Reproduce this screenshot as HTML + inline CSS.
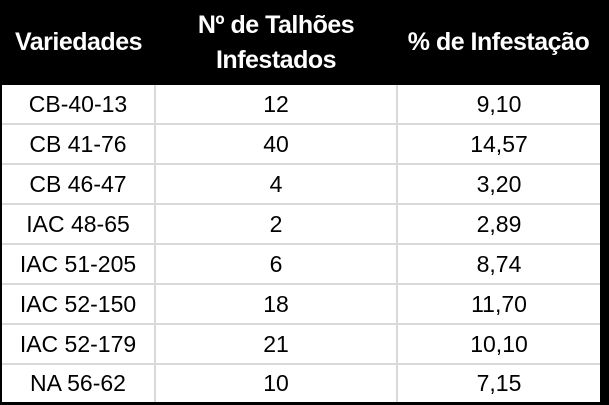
<!DOCTYPE html>
<html><head><meta charset="utf-8"><style>
body{margin:0;width:609px;height:405px;background:#fff;overflow:hidden;font-family:"Liberation Sans",sans-serif}
.wrap{position:absolute;left:0;top:0;width:609px;height:405px;background:#000}
table{position:absolute;left:2px;top:0;border-collapse:collapse;width:598px;table-layout:fixed}
th{background:#000;color:#fff;font-weight:bold;font-size:25px;height:85px;padding:0;line-height:35px;letter-spacing:-0.5px;white-space:nowrap}
td{background:#fff;color:#000;font-size:23px;text-align:center;height:38px;padding:0;border:2px solid #d9d9d9;border-top:none}
td:first-child{border-left:none}
td:last-child{border-right:none}
tr:last-child td{border-bottom:none;height:37px}
</style></head><body>
<div class="wrap">
<table>
<colgroup><col style="width:153px"><col style="width:242px"><col style="width:203px"></colgroup>
<tr>
<th>Variedades</th>
<th>Nº de Talhões<br>Infestados</th>
<th>% de Infestação</th></tr>
<tr><td>CB-40-13</td><td>12</td><td>9,10</td></tr>
<tr><td>CB 41-76</td><td>40</td><td>14,57</td></tr>
<tr><td>CB 46-47</td><td>4</td><td>3,20</td></tr>
<tr><td>IAC 48-65</td><td>2</td><td>2,89</td></tr>
<tr><td>IAC 51-205</td><td>6</td><td>8,74</td></tr>
<tr><td>IAC 52-150</td><td>18</td><td>11,70</td></tr>
<tr><td>IAC 52-179</td><td>21</td><td>10,10</td></tr>
<tr><td>NA 56-62</td><td>10</td><td>7,15</td></tr>
</table></div>
</body></html>
